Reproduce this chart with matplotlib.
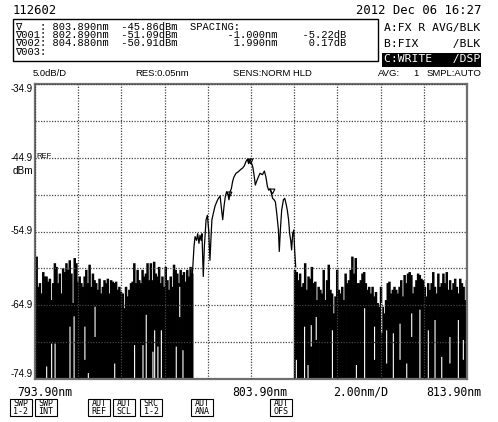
import matplotlib
matplotlib.use('Agg')
import matplotlib.pyplot as plt
from matplotlib.patches import Rectangle
import numpy as np

left_noise_span = (793.9, 801.18)
right_noise_span = (805.94, 813.9)

left_noise_db = [
    -61.9, -58.3, -62.4, -61.9, -63.3, -60.4, -61.0, -61.0, -61.7, -61.3, -64.2, -61.9,
    -59.2, -59.7, -61.9, -60.6, -63.3, -59.9, -60.4, -59.2, -60.1, -58.8, -60.6, -64.6,
    -58.5, -59.2, -61.7, -61.0, -61.9, -62.4, -61.0, -60.1, -61.9, -59.4, -62.4, -60.6,
    -61.5, -61.9, -62.8, -61.3, -63.3, -62.4, -61.5, -61.9, -61.3, -63.3, -61.5, -61.7,
    -61.9, -61.7, -62.8, -62.4, -63.1, -63.3, -65.3, -62.4, -63.7, -62.8, -61.9, -61.7,
    -59.2, -61.9, -60.1, -61.5, -61.9, -60.1, -61.0, -60.6, -59.2, -61.5, -59.2, -61.5,
    -59.0, -60.6, -61.0, -59.7, -61.9, -61.0, -62.4, -59.7, -61.5, -62.8, -61.0, -62.4,
    -59.4, -60.1, -60.6, -61.9, -60.1, -60.8, -60.4, -61.7, -60.1, -61.0, -59.7, -60.6,
]

right_noise_db = [
    -60.1, -60.4, -61.5, -60.6, -62.4, -61.9, -59.2, -62.8, -61.0, -61.3, -59.7, -61.9,
    -61.7, -64.2, -62.4, -62.8, -63.3, -60.1, -64.2, -61.5, -59.4, -62.8, -63.3, -66.0,
    -63.7, -60.1, -62.8, -63.3, -62.4, -64.2, -60.6, -61.9, -61.5, -60.1, -58.3, -60.6,
    -58.5, -61.9, -61.9, -61.5, -60.6, -60.4, -61.9, -62.8, -62.4, -63.3, -62.4, -63.7,
    -63.1, -64.6, -65.1,
    -62.4, -65.1, -66.0, -64.2, -61.9, -61.7, -63.3, -62.8, -62.4, -62.8, -63.3, -62.4,
    -61.5, -63.7, -60.8, -61.9, -60.6, -60.4, -60.8, -63.3, -62.4, -61.5, -60.6, -60.8,
    -61.3, -61.5, -62.4, -63.7, -61.9, -62.8, -61.9, -60.4, -62.4, -63.3, -60.6, -62.4,
    -61.9, -60.6, -61.9, -60.4, -62.8, -61.5, -62.8, -61.9, -61.3, -62.4, -63.3, -61.3,
    -61.9, -62.4, -64.2, -61.5,
]

# white streaks inside the noise floor
gap_nm = [794.44, 794.67, 794.83, 795.52, 795.71, 796.21, 796.37, 796.68, 797.59, 798.51,
          798.90, 799.05, 799.36, 799.44, 799.59, 799.75, 800.44, 800.60, 800.75,
          806.00, 806.38, 806.54, 806.69, 806.92, 807.67, 808.78, 809.16, 809.62, 809.95,
          810.18, 810.49, 810.80, 811.11, 811.34, 811.72, 812.11, 812.42, 812.73, 813.11,
          813.50, 813.73]
gap_top_db = [-73.2, -70.1, -70.1, -67.8, -66.4, -67.8, -74.1, -65.1, -72.8, -70.3,
              -70.3, -66.2, -71.2, -68.3, -70.5, -68.3, -70.5, -62.4, -71.0,
              -72.3, -67.8, -73.0, -67.6, -66.5, -68.3, -73.0, -65.3, -67.8, -64.6,
              -68.3, -68.7, -67.4, -72.8, -66.0, -65.5, -68.3, -66.9, -71.9, -69.2,
              -66.9, -69.6]
gap_bottom_db = [-75, -75, -75, -75, -75, -72.3, -75, -69.2, -75, -75,
                 -75, -75, -75, -75, -75, -75, -75, -66.5, -75,
                 -75, -75, -75, -70.5, -69.6, -75, -75, -75, -72.3, -68.7,
                 -72.8, -75, -72.3, -75, -69.2, -75, -75, -75, -75, -72.8,
                 -75, -72.3]

sig_nm = [801.18, 801.26, 801.31, 801.38, 801.43, 801.49, 801.54, 801.59, 801.63, 801.69,
          801.74, 801.82, 801.88, 801.94, 802.00, 802.05, 802.09, 802.16, 802.23, 802.31,
          802.39, 802.47, 802.54, 802.59, 802.65, 802.71, 802.77, 802.84, 802.88, 802.93,
          802.99, 803.05, 803.11, 803.21, 803.31, 803.42, 803.51, 803.59, 803.67, 803.73,
          803.79, 803.85, 803.92, 803.98, 804.04, 804.10, 804.16, 804.24, 804.32, 804.43,
          804.52, 804.59, 804.66, 804.72, 804.78, 804.84, 804.90, 804.97, 805.03, 805.09,
          805.17, 805.21, 805.26, 805.32, 805.40, 805.46, 805.52, 805.58, 805.64, 805.69,
          805.74, 805.78, 805.83, 805.88, 805.92, 805.97]
sig_db = [-61.0, -57.0, -55.6, -56.1, -55.2, -56.5, -55.4, -56.1, -55.2, -61.0,
          -57.0, -53.3, -52.7, -54.7, -58.8, -55.6, -53.3, -52.4, -51.5, -50.9,
          -50.4, -50.1, -52.0, -53.3, -51.5, -50.2, -49.5, -50.0, -50.6, -49.5,
          -49.1, -48.1, -47.5, -47.0, -46.8, -46.5, -46.3, -46.0, -45.4, -45.1,
          -45.7, -45.1, -45.6, -46.1, -47.2, -48.6, -48.1, -47.5, -47.0, -47.2,
          -46.7, -47.5, -48.8, -49.3, -49.1, -49.7, -50.4, -50.6, -50.9, -52.4,
          -54.7, -57.6, -54.7, -52.0, -50.6, -50.4, -51.1, -52.0, -53.3, -55.2,
          -56.1, -57.4, -55.2, -54.7, -57.4, -59.7]

marker_nm = [803.85, 802.89, 804.88]
marker_db = [-45.3, -49.8, -49.4]

y_ticks = [-34.9, -44.9, -54.9, -64.9, -74.9]
y_ticklabels = ['-34.9', '-44.9', '-54.9', '-64.9', '-74.9']
x_labels = ['793.90nm', '803.90nm', '2.00nm/D', '813.90nm']

marker_rows = [
    '\u2207   : 803.890nm  -45.86dBm  SPACING:',
    '\u2207001: 802.890nm  -51.09dBm        -1.000nm    -5.22dB',
    '\u2207002: 804.880nm  -50.91dBm         1.990nm     0.17dB',
    '\u2207003:',
]
trace_rows = ['A:FX R AVG/BLK', 'B:FIX     /BLK', 'C:WRITE   /DSP']
status_items = ['5.0dB/D', 'RES:0.05nm', 'SENS:NORM HLD', 'AVG:', '1', 'SMPL:AUTO']
button_top = ['SWP', 'SWP', 'AUT', 'AUT', 'SRC', 'AUT', 'AUT']
button_bottom = ['1-2', 'INT', 'REF', 'SCL', '1-2', 'ANA', 'OFS']

# ---- layout (pixels of the 498x422 capture) ----
W, H = 498, 422
MONO = ['DejaVu Sans Mono', 'DejaVu Sans']
BOXMONO = ['Liberation Mono', 'DejaVu Sans Mono', 'DejaVu Sans']
SANS = ['Liberation Sans', 'DejaVu Sans']


def fx(x):
    return x / W


def fy(y):
    return 1 - y / H


fig = plt.figure(figsize=(W / 100, H / 100), dpi=100)
fig.patch.set_facecolor('white')
ax = fig.add_axes([fx(35), fy(379), 432 / W, 295 / H])

# noise floor drawn as dense vertical strokes
left_x = np.linspace(left_noise_span[0], left_noise_span[1], len(left_noise_db))
right_x = np.linspace(right_noise_span[0], right_noise_span[1], len(right_noise_db))
for xs, ys in [(left_x, left_noise_db), (right_x, right_noise_db)]:
    lc = ax.vlines(xs, -76, ys, colors='black', lw=1.8, zorder=1.5)
    lc.set_snap(False)
gl = ax.vlines(gap_nm, gap_bottom_db, gap_top_db, colors='white', lw=0.8, zorder=1.6)
gl.set_snap(False)

ax.plot(sig_nm, sig_db, color='black', lw=0.9, zorder=3)
ax.plot(marker_nm, marker_db, 'v', ms=3.5, mfc='none', mec='black', mew=0.8, zorder=3)

ax.set_xlim(793.9, 813.9)
ax.set_ylim(-74.9, -34.9)
ax.set_xticks(np.arange(793.9, 813.95, 2.0))
ax.set_xticklabels([])
ax.set_yticks(np.arange(-74.9, -34.85, 5.0))
ax.set_yticklabels([])
ax.tick_params(length=0)
ax.set_axisbelow(False)
ax.grid(True, color='#444444', lw=0.9, linestyle=(0, (1, 1.2)))
for s in ax.spines.values():
    s.set_color('#707070')
    s.set_linewidth(1.6)

# y labels at the major divisions
for v, lab in zip(y_ticks, y_ticklabels):
    va = 'top' if v == y_ticks[0] else ('bottom' if v == y_ticks[-1] else 'center')
    ax.annotate(lab, xy=(0, v), xycoords=('axes fraction', 'data'),
                xytext=(-1.5, 0), textcoords='offset points',
                ha='right', va=va, fontsize=7, family=SANS)
ax.annotate('REF', xy=(0, -44.9), xycoords=('axes fraction', 'data'),
            xytext=(1, 1), textcoords='offset points',
            ha='left', va='center', fontsize=5.5, family=SANS)
fig.text(fx(33), fy(171), 'dBm', ha='right', va='center', fontsize=7.2, family=SANS)

# x labels
for lab, x, ha in zip(x_labels, [17, 232, 333, 481], ['left', 'left', 'left', 'right']):
    fig.text(fx(x), fy(392), lab, ha=ha, va='center', fontsize=8.3, family=MONO)

# header
fig.text(fx(13), fy(11), '112602', ha='left', va='center', fontsize=8.8, family=MONO)
fig.text(fx(481), fy(11), '2012 Dec 06 16:27', ha='right', va='center', fontsize=8.8, family=MONO)

fig.patches.append(Rectangle((fx(12.7), fy(61)), (378 - 12.7) / W, 42 / H,
                             transform=fig.transFigure, fill=False, ec='black', lw=1))
for i, row in enumerate(marker_rows):
    fig.text(fx(15), fy(26.5 + 8.5 * i), row, ha='left', va='center', fontsize=7.5,
             family=BOXMONO)

fig.patches.append(Rectangle((fx(382), fy(67)), 99 / W, 14 / H,
                             transform=fig.transFigure, fc='black', ec='none'))
for i, row in enumerate(trace_rows):
    fig.text(fx(384), fy(28 + 15.5 * i), row, ha='left', va='center', fontsize=8.2,
             family=MONO, color='white' if i == 2 else 'black')

for lab, x, ha in zip(status_items, [33, 135, 233, 378, 413, 481],
                      ['left', 'left', 'left', 'left', 'left', 'right']):
    fig.text(fx(x), fy(74), lab, ha=ha, va='center', fontsize=6.8, family=SANS)

# soft-key buttons along the bottom
for top, bot, x in zip(button_top, button_bottom, [10, 35, 88, 113, 140, 191, 270]):
    fig.patches.append(Rectangle((fx(x), fy(416)), 22 / W, 17 / H,
                                 transform=fig.transFigure, fill=False, ec='black', lw=0.8))
    fig.text(fx(x + 11), fy(407.5), top + '\n' + bot, ha='center', va='center',
             fontsize=6, family=MONO, linespacing=0.9)

fig.savefig('out.png', dpi=100)
